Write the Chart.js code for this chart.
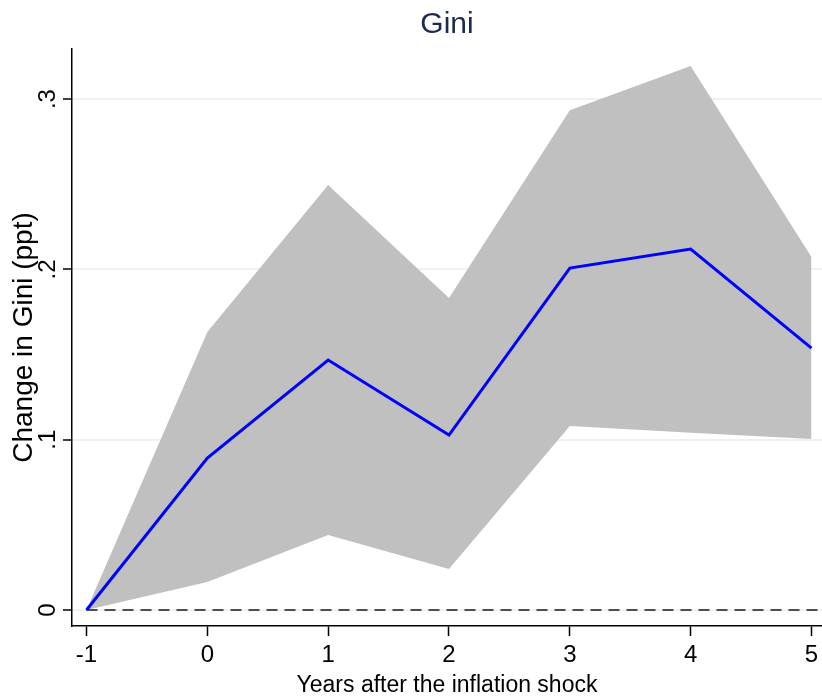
<!DOCTYPE html>
<html lang="en">
<head>
    <meta charset="UTF-8">
    <title>Gini</title>
    <script src="https://cdn.jsdelivr.net/npm/chart.js"></script>
    <style>
        body { margin: 0; background: #fff; }
        #wrap { width: 822px; height: 698px; }
    </style>
</head>
<body>
    <div id="wrap">
        <canvas id="giniChart" width="822" height="698"></canvas>
    </div>

    <script>
        // years relative to the shock
        const years = [-1, 0, 1, 2, 3, 4, 5];
        // point estimate and confidence band, ppt
        const estimate = [0, 0.0892, 0.1468, 0.1027, 0.2008, 0.2119, 0.1538];
        const upper = [0, 0.1632, 0.2495, 0.1832, 0.2935, 0.3194, 0.2072];
        const lower = [0, 0.0164, 0.0440, 0.0241, 0.1080, 0.1040, 0.1004];

        const yTicks = [0, 0.1, 0.2, 0.3];
        const yTickLabels = ['0', '.1', '.2', '.3'];

        // axis limits
        const X_MIN = -1.12, X_MAX = 5.087;
        const Y_MIN = -0.0094, Y_MAX = 0.3294;

        const pts = vals => years.map((x, i) => ({ x: x, y: vals[i] }));

        const SANS = "'Liberation Sans', Arial, sans-serif";

        const ctx = document.getElementById('giniChart').getContext('2d');

        new Chart(ctx, {
            type: 'line',
            data: {
                datasets: [
                    {
                        label: 'estimate',
                        data: pts(estimate),
                        borderColor: '#0000ff',
                        borderWidth: 3,
                        pointRadius: 0,
                        tension: 0,
                        fill: false,
                        order: 0
                    },
                    {
                        label: 'zero',
                        data: [{ x: years[0], y: 0 }, { x: X_MAX, y: 0 }],
                        borderColor: '#1a1a1a',
                        borderWidth: 1.5,
                        borderDash: [11, 7],
                        pointRadius: 0,
                        fill: false,
                        order: 1
                    },
                    {
                        label: 'upper',
                        data: pts(upper),
                        borderWidth: 0,
                        borderColor: 'rgba(0,0,0,0)',
                        backgroundColor: '#c0c0c0',
                        pointRadius: 0,
                        tension: 0,
                        fill: '+1',
                        order: 2
                    },
                    {
                        label: 'lower',
                        data: pts(lower),
                        borderWidth: 0,
                        borderColor: 'rgba(0,0,0,0)',
                        pointRadius: 0,
                        tension: 0,
                        fill: false,
                        order: 3
                    }
                ]
            },
            options: {
                responsive: false,
                devicePixelRatio: 1,
                animation: false,
                layout: { padding: 0 },
                plugins: {
                    legend: { display: false },
                    tooltip: { enabled: false },
                    title: {
                        display: true,
                        fullSize: false, // center over the plot, not the canvas
                        text: 'Gini',
                        color: '#1a2a50',
                        font: { family: SANS, size: 30, weight: 'normal' },
                        padding: { top: 7, bottom: 6 }
                    }
                },
                scales: {
                    x: {
                        type: 'linear',
                        min: X_MIN,
                        max: X_MAX,
                        afterBuildTicks: s => { s.ticks = years.map(v => ({ value: v })); },
                        afterFit: s => {
                            s.height = 72;
                            s.paddingLeft = 0;
                            s.paddingRight = 0;
                        },
                        grid: {
                            drawOnChartArea: false,
                            drawTicks: true,
                            tickLength: 10,
                            tickWidth: 1.5,
                            tickColor: '#000'
                        },
                        border: { display: true, color: '#000', width: 1.5 },
                        ticks: {
                            color: '#000',
                            padding: 5,
                            maxRotation: 0,
                            font: { family: SANS, size: 24 },
                            callback: v => String(v)
                        },
                        title: {
                            display: true,
                            text: 'Years after the inflation shock',
                            color: '#000',
                            font: { family: SANS, size: 23, lineHeight: 1 },
                            padding: { top: 0, bottom: 1 }
                        }
                    },
                    y: {
                        type: 'linear',
                        min: Y_MIN,
                        max: Y_MAX,
                        afterBuildTicks: s => { s.ticks = yTicks.map(v => ({ value: v })); },
                        afterFit: s => {
                            s.width = 72;
                            s.paddingTop = 0;
                            s.paddingBottom = 0;
                        },
                        grid: {
                            color: '#eaf2f3',
                            lineWidth: 2,
                            drawTicks: true,
                            tickLength: 9,
                            tickWidth: 1.5,
                            tickColor: '#000'
                        },
                        border: { display: true, color: '#000', width: 1.5 },
                        ticks: {
                            color: '#000',
                            padding: 5,
                            minRotation: 90,
                            maxRotation: 90,
                            crossAlign: 'center',
                            font: { family: SANS, size: 24 },
                            callback: v => yTickLabels[yTicks.indexOf(v)]
                        },
                        title: {
                            display: true,
                            text: 'Change in Gini (ppt)',
                            color: '#000',
                            font: { family: SANS, size: 28 },
                            padding: { top: 7, bottom: 0 }
                        }
                    }
                }
            }
        });
    </script>
</body>
</html>
